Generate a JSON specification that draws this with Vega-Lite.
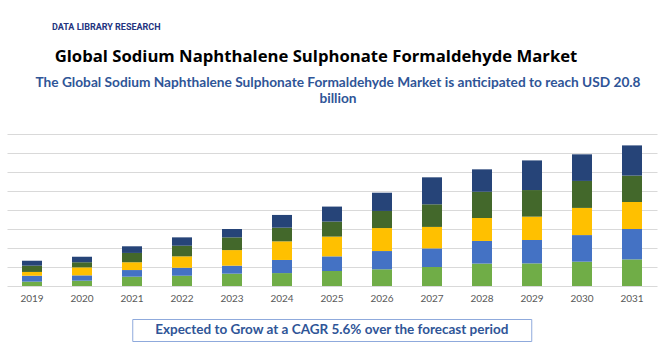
{
  "$schema": "https://vega.github.io/schema/vega-lite/v6.json",
  "background": "white",
  "padding": {"left": 7, "right": 13, "top": 22, "bottom": 5},
  "title": {
    "text": "DATA LIBRARY RESEARCH",
    "anchor": "start",
    "dx": 45,
    "font": "Roboto",
    "fontSize": 9,
    "fontWeight": "bold",
    "color": "#24347F",
    "offset": 17
  },
  "config": {"view": {"stroke": null}},
  "vconcat": [
    {
      "title": {
        "text": "Global Sodium Naphthalene Sulphonate Formaldehyde Market",
        "anchor": "middle",
        "dx": -16,
        "font": "Open Sans",
        "fontSize": 16.7,
        "fontWeight": "bold",
        "color": "#000000",
        "offset": 11
      },
      "spacing": 15,
      "center": true,
      "vconcat": [
        {
          "width": 650,
          "height": 152,
          "title": {
            "text": ["The Global Sodium Naphthalene Sulphonate Formaldehyde Market is anticipated to reach USD 20.8", "billion"],
            "anchor": "middle",
            "dx": 6,
            "font": "Lato",
            "fontSize": 13.7,
            "fontWeight": "bold",
            "color": "#2F5597",
            "lineHeight": 16,
            "offset": 28
          },
          "data": {
            "values": [
              {"year": "2019", "segment": "Segment 1", "value": 0.23},
              {"year": "2019", "segment": "Segment 2", "value": 0.31},
              {"year": "2019", "segment": "Segment 3", "value": 0.20},
              {"year": "2019", "segment": "Segment 4", "value": 0.33},
              {"year": "2019", "segment": "Segment 5", "value": 0.26},
              {"year": "2020", "segment": "Segment 1", "value": 0.28},
              {"year": "2020", "segment": "Segment 2", "value": 0.28},
              {"year": "2020", "segment": "Segment 3", "value": 0.42},
              {"year": "2020", "segment": "Segment 4", "value": 0.27},
              {"year": "2020", "segment": "Segment 5", "value": 0.29},
              {"year": "2021", "segment": "Segment 1", "value": 0.49},
              {"year": "2021", "segment": "Segment 2", "value": 0.35},
              {"year": "2021", "segment": "Segment 3", "value": 0.41},
              {"year": "2021", "segment": "Segment 4", "value": 0.49},
              {"year": "2021", "segment": "Segment 5", "value": 0.35},
              {"year": "2022", "segment": "Segment 1", "value": 0.54},
              {"year": "2022", "segment": "Segment 2", "value": 0.42},
              {"year": "2022", "segment": "Segment 3", "value": 0.60},
              {"year": "2022", "segment": "Segment 4", "value": 0.56},
              {"year": "2022", "segment": "Segment 5", "value": 0.44},
              {"year": "2023", "segment": "Segment 1", "value": 0.65},
              {"year": "2023", "segment": "Segment 2", "value": 0.42},
              {"year": "2023", "segment": "Segment 3", "value": 0.82},
              {"year": "2023", "segment": "Segment 4", "value": 0.67},
              {"year": "2023", "segment": "Segment 5", "value": 0.44},
              {"year": "2024", "segment": "Segment 1", "value": 0.68},
              {"year": "2024", "segment": "Segment 2", "value": 0.69},
              {"year": "2024", "segment": "Segment 3", "value": 0.98},
              {"year": "2024", "segment": "Segment 4", "value": 0.72},
              {"year": "2024", "segment": "Segment 5", "value": 0.67},
              {"year": "2025", "segment": "Segment 1", "value": 0.79},
              {"year": "2025", "segment": "Segment 2", "value": 0.77},
              {"year": "2025", "segment": "Segment 3", "value": 1.04},
              {"year": "2025", "segment": "Segment 4", "value": 0.79},
              {"year": "2025", "segment": "Segment 5", "value": 0.79},
              {"year": "2026", "segment": "Segment 1", "value": 0.88},
              {"year": "2026", "segment": "Segment 2", "value": 0.96},
              {"year": "2026", "segment": "Segment 3", "value": 1.21},
              {"year": "2026", "segment": "Segment 4", "value": 0.90},
              {"year": "2026", "segment": "Segment 5", "value": 0.96},
              {"year": "2027", "segment": "Segment 1", "value": 1.00},
              {"year": "2027", "segment": "Segment 2", "value": 0.98},
              {"year": "2027", "segment": "Segment 3", "value": 1.13},
              {"year": "2027", "segment": "Segment 4", "value": 1.19},
              {"year": "2027", "segment": "Segment 5", "value": 1.42},
              {"year": "2028", "segment": "Segment 1", "value": 1.18},
              {"year": "2028", "segment": "Segment 2", "value": 1.19},
              {"year": "2028", "segment": "Segment 3", "value": 1.21},
              {"year": "2028", "segment": "Segment 4", "value": 1.38},
              {"year": "2028", "segment": "Segment 5", "value": 1.18},
              {"year": "2029", "segment": "Segment 1", "value": 1.19},
              {"year": "2029", "segment": "Segment 2", "value": 1.23},
              {"year": "2029", "segment": "Segment 3", "value": 1.23},
              {"year": "2029", "segment": "Segment 4", "value": 1.40},
              {"year": "2029", "segment": "Segment 5", "value": 1.56},
              {"year": "2030", "segment": "Segment 1", "value": 1.28},
              {"year": "2030", "segment": "Segment 2", "value": 1.40},
              {"year": "2030", "segment": "Segment 3", "value": 1.43},
              {"year": "2030", "segment": "Segment 4", "value": 1.42},
              {"year": "2030", "segment": "Segment 5", "value": 1.40},
              {"year": "2031", "segment": "Segment 1", "value": 1.40},
              {"year": "2031", "segment": "Segment 2", "value": 1.60},
              {"year": "2031", "segment": "Segment 3", "value": 1.42},
              {"year": "2031", "segment": "Segment 4", "value": 1.39},
              {"year": "2031", "segment": "Segment 5", "value": 1.59}
            ]
          },
          "mark": {"type": "bar"},
          "encoding": {
            "x": {
              "field": "year",
              "type": "ordinal",
              "scale": {"paddingInner": 0.6, "paddingOuter": 0.3},
              "axis": {
                "title": null,
                "labelAngle": 0,
                "labelFont": "Lato",
                "labelFontSize": 10,
                "labelColor": "#595959",
                "ticks": false,
                "domain": false,
                "labelPadding": 7
              }
            },
            "y": {
              "field": "value",
              "type": "quantitative",
              "stack": "zero",
              "scale": {"domain": [0, 8], "nice": false},
              "axis": {
                "title": null,
                "labels": false,
                "ticks": false,
                "domain": false,
                "values": [0, 1, 2, 3, 4, 5, 6, 7, 8],
                "gridColor": "#D9D9D9",
                "gridWidth": 1
              }
            },
            "color": {
              "field": "segment",
              "type": "nominal",
              "scale": {
                "domain": ["Segment 1", "Segment 2", "Segment 3", "Segment 4", "Segment 5"],
                "range": ["#70AD47", "#4472C4", "#FFC000", "#43682B", "#264478"]
              },
              "legend": null
            },
            "order": {"field": "segment", "sort": "ascending"}
          }
        },
        {
          "width": 399,
          "height": 22,
          "view": {"stroke": "#8FAADC", "strokeWidth": 1},
          "data": {"values": [{"label": "Expected to Grow at a CAGR 5.6% over the forecast period"}]},
          "mark": {"type": "text", "font": "Lato", "fontSize": 13.5, "fontWeight": "bold", "color": "#2F5597"},
          "encoding": {"text": {"field": "label", "type": "nominal"}}
        }
      ]
    }
  ]
}
